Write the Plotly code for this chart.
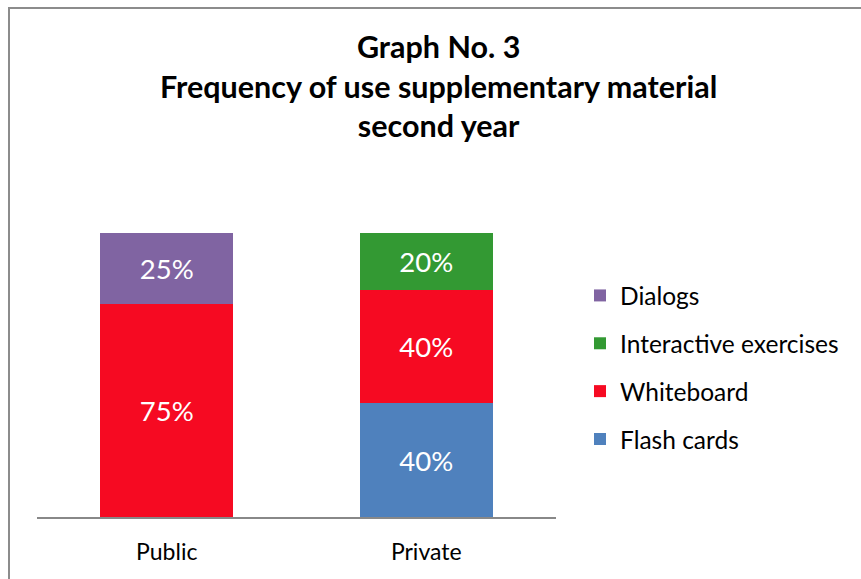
import plotly.graph_objects as go

categories = ["Public", "Private"]
series_names = ["Flash cards", "Whiteboard", "Interactive exercises", "Dialogs"]
flash_cards = [None, 40]
whiteboard = [75, 40]
interactive = [None, 20]
dialogs = [25, None]
colors = ["#4F81BD", "#F60A22", "#339933", "#8064A2"]
legend_ranks = [4, 3, 2, 1]

values = [flash_cards, whiteboard, interactive, dialogs]

FONT = "Lato"
W, H = 861, 579
L, R, T, B = 37, 556, 233, 517

fig = go.Figure()
for name, vals, col, rk in zip(series_names, values, colors, legend_ranks):
    fig.add_trace(go.Bar(
        x=categories, y=vals, name=name, marker=dict(color=col, line=dict(width=0)),
        texttemplate="%{y}%", textposition="inside", insidetextanchor="middle",
        textfont=dict(color="white", size=27.5, family=FONT),
        legendgroup=name, legendrank=rk, width=0.513,
    ))

def px_x(p):
    return (p - L) / (R - L)

def px_y(p):
    return (B - p) / (B - T)

fig.update_layout(
    width=W, height=H,
    margin=dict(l=L, r=W - R, t=T, b=H - B, autoexpand=False),
    barmode="stack",
    plot_bgcolor="white", paper_bgcolor="white",
    font=dict(family=FONT, color="#000000"),
    showlegend=True,
    legend=dict(x=px_x(580), y=px_y(273), xanchor="left", yanchor="top",
                traceorder="grouped", tracegroupgap=13,
                font=dict(size=24.5, family=FONT, color="#000000")),
    xaxis=dict(showline=True, linecolor="#888888", linewidth=2, ticks="",
               tickfont=dict(size=23, family=FONT, color="#000000"), ticklabelstandoff=13),
    yaxis=dict(range=[0, 100], visible=False),
    annotations=[dict(
        text="<b>Graph No. 3<br>Frequency of use supplementary material<br>second year</b>",
        xref="paper", yref="paper", x=px_x(438), y=px_y(26), xanchor="center", yanchor="top",
        showarrow=False, font=dict(size=30.5, family=FONT, color="#000000"), align="center")],
    shapes=[dict(type="rect", xref="paper", yref="paper",
                 x0=px_x(9), x1=px_x(900), y0=px_y(620), y1=px_y(8),
                 line=dict(color="#8C8C8C", width=2), layer="above")],
)

fig.write_html("out.html", config={"displayModeBar": False},
               post_script="document.body.style.margin='0';")
